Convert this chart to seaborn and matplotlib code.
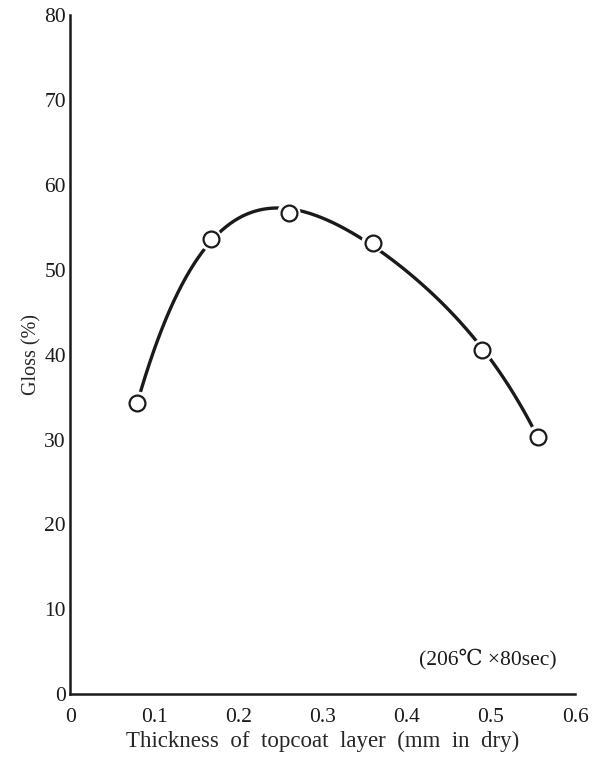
import numpy as np
import pandas as pd
import matplotlib
matplotlib.use("Agg")
import matplotlib.pyplot as plt
import seaborn as sns

thickness = [0.08, 0.167, 0.26, 0.36, 0.49, 0.556]
gloss = [34.3, 53.6, 56.7, 53.2, 40.5, 30.3]
x_ticks = [0, 0.1, 0.2, 0.3, 0.4, 0.5, 0.6]
x_labels = ["0", "0.1", "0.2", "0.3", "0.4", "0.5", "0.6"]
y_ticks = [0, 10, 20, 30, 40, 50, 60, 70, 80]

df = pd.DataFrame({"thickness": thickness, "gloss": gloss})

sns.set_style("white")
plt.rcParams['font.family'] = ['Liberation Serif', 'DejaVu Serif']

fig = plt.figure(figsize=(6.04, 7.57), dpi=100)
ax = fig.add_axes([0.116, 0.083, 0.836, 0.897])

# fitted curve
sns.regplot(data=df, x="thickness", y="gloss", order=4, ci=None, scatter=False,
            truncate=True, line_kws={"color": "#1a1a1a", "lw": 2.4}, ax=ax)
# white halo to break the line around markers
sns.scatterplot(data=df, x="thickness", y="gloss", s=280, color="white",
                edgecolor="none", zorder=3, ax=ax)
sns.scatterplot(data=df, x="thickness", y="gloss", s=130, facecolor="white",
                edgecolor="#1a1a1a", linewidth=1.6, zorder=4, ax=ax)

ax.set_xlim(0, 0.6)
ax.set_ylim(0, 80)
ax.set_xticks(x_ticks)
ax.set_xticklabels(x_labels)
ax.set_yticks(y_ticks)
ax.tick_params(direction="in", length=8, width=1.3, labelsize=15.5, colors="#1a1a1a")
ax.tick_params(axis="x", pad=10)
ax.tick_params(axis="y", pad=3)
for s in ["top", "right"]:
    ax.spines[s].set_visible(False)
for s in ["left", "bottom"]:
    ax.spines[s].set_linewidth(1.8)
    ax.spines[s].set_color("#1a1a1a")

ax.set_xlabel("Thickness  of  topcoat  layer  (mm  in  dry)", fontsize=16.5, labelpad=3)
ax.set_ylabel("Gloss (%)", fontsize=14.5, labelpad=2)
ax.text(0.415, 3.5, "(206\u2103 \u00d780sec)", fontsize=15.5, color="#1a1a1a")

fig.savefig("out.png", dpi=100)
